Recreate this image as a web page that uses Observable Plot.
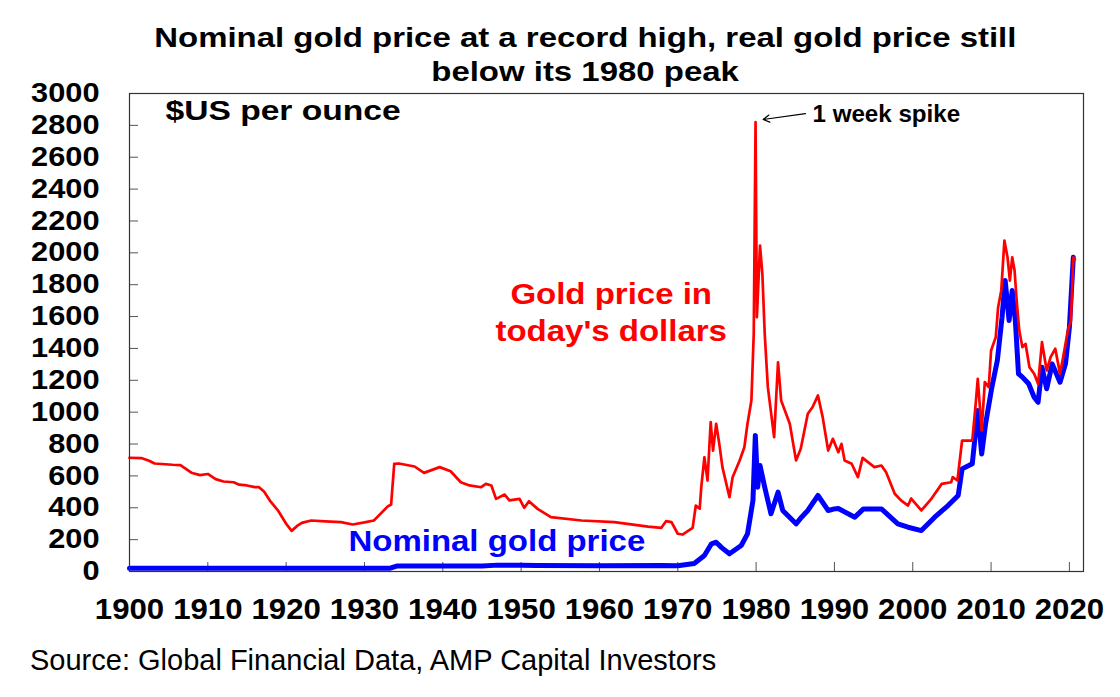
<!DOCTYPE html>
<html><head><meta charset="utf-8">
<script src="https://cdn.jsdelivr.net/npm/d3@7"></script>
<script src="https://cdn.jsdelivr.net/npm/@observablehq/plot@0.6"></script>
<style>
body{margin:0;background:#fff;font-family:"Liberation Sans",Arial,sans-serif;}
#wrap{position:relative;width:1120px;height:697px;overflow:hidden;background:#fff;}
.tl{position:absolute;left:0;width:1170px;text-align:center;font-weight:bold;font-size:27px;line-height:27px;white-space:nowrap;color:#000;}
.tl span{display:inline-block;transform:scaleX(1.22);transform-origin:50% 50%;}
#cap{position:absolute;left:30px;top:646px;font-size:29px;line-height:29px;white-space:nowrap;color:#000;}
#chart{position:absolute;left:0;top:0;}
</style></head>
<body><div id="wrap">
<div id="chart"></div>
<div class="tl" style="top:25px"><span>Nominal gold price at a record high, real gold price still</span></div>
<div class="tl" style="top:59px"><span>below its 1980 peak</span></div>
<div id="cap">Source: Global Financial Data, AMP Capital Investors</div>
</div>
<script>
// Real gold price (today's dollars)
const realYears = [1900,1901.5,1902.5,1903.2,1905.5,1906.5,1907.9,1909,1910,1911,1912,1913.3,1914,1915,1916,1916.5,1917.2,1918,1919,1920,1920.7,1921.5,1922,1923.2,1925,1927,1928.5,1930,1931.2,1932,1933,1933.4,1933.8,1934.4,1936.4,1937.6,1939.6,1941,1942.3,1943.4,1944.9,1945.5,1946.2,1946.8,1947.9,1948.5,1949.8,1950.4,1951,1952.1,1953.8,1957.7,1961.9,1966.2,1967.9,1968.5,1969.2,1970,1970.6,1971.9,1972.3,1972.8,1973,1973.4,1973.8,1974.2,1974.5,1974.9,1975.3,1975.7,1976.6,1977,1977.9,1978.5,1978.9,1979.4,1979.7,1979.93,1980.1,1980.5,1980.8,1981.1,1981.5,1982.3,1982.8,1983.2,1984.3,1985.1,1985.7,1986.6,1987.2,1987.9,1988.5,1989.2,1989.8,1990.5,1990.9,1991.3,1992.2,1993,1993.6,1995.1,1996,1996.6,1997.7,1998.5,1999.4,1999.8,2001.1,2002.4,2003.7,2004.9,2005.1,2005.7,2006.3,2007.6,2008,2008.3,2008.8,2009.2,2009.7,2010,2010.6,2010.9,2011.3,2011.7,2012.1,2012.4,2012.7,2013,2013.3,2013.6,2014,2014.4,2014.9,2015.5,2016,2016.5,2017.1,2017.6,2018.2,2018.8,2019.2,2019.8,2020.2,2020.5,2020.7];
const realPrice = [714,712,695,678,670,668,620,605,612,580,565,560,545,540,530,530,500,440,380,300,255,290,305,320,315,310,295,308,320,360,410,420,676,678,659,619,655,629,560,540,529,550,540,456,483,446,456,400,441,393,341,320,310,282,274,316,310,237,232,274,414,395,529,717,571,937,759,927,801,655,466,592,697,780,927,1073,1492,2820,1596,2046,1868,1492,1157,843,1313,1073,927,697,770,990,1031,1105,969,759,833,749,801,697,676,592,713,655,665,623,488,446,414,458,383,458,550,560,592,571,822,822,1031,1209,885,1188,1157,1387,1471,1659,1764,2077,1972,1826,1972,1889,1680,1512,1408,1429,1282,1241,1178,1439,1261,1345,1398,1241,1345,1512,1575,1972,1960];
// Nominal gold price
const nominalYears = [1900,1933.3,1934.2,1945,1947,1950,1952,1960,1967.9,1970,1972.1,1973.4,1974.3,1974.9,1975.6,1976.6,1978.1,1978.9,1979.6,1979.9,1980.2,1980.5,1981.1,1981.9,1982.8,1983.4,1985.1,1985.8,1986.6,1987.9,1989.2,1990,1990.5,1992.6,1993.7,1996,1998.1,1999.4,2001.1,2002.8,2004.5,2005.8,2006.3,2007.6,2008.3,2008.8,2009.3,2010.1,2010.8,2011.4,2011.8,2012.3,2012.7,2013.1,2013.5,2014,2014.8,2015.5,2016,2016.5,2017.1,2017.8,2018.8,2019.5,2020,2020.5];
const nominalPrice = [20.67,20.67,35,35,40,40,38,36,38,36,50,100,174,184,150,111,163,236,446,854,529,665,529,362,498,383,299,341,383,477,383,393,395,341,393,393,299,278,257,341,414,477,644,676,1010,738,927,1157,1324,1596,1826,1575,1764,1575,1241,1220,1178,1094,1062,1282,1147,1303,1188,1303,1533,1972];
// Axes
const xTicks = [1900,1910,1920,1930,1940,1950,1960,1970,1980,1990,2000,2010,2020];
const yTicks = [0,200,400,600,800,1000,1200,1400,1600,1800,2000,2200,2400,2600,2800,3000];
// Annotations
const seriesLabels = [
  {x: 1961.5, y: 1842, text: "Gold price in\ntoday's dollars", color: "#ff0000", anchor: "top"},
  {x: 1946.9, y: 188, text: "Nominal gold price", color: "#0000ff", anchor: "middle"}
];
const spikeNote = [{x: 1987.2, y: 2868, text: "1 week spike"}];
const spikeArrow = [{x1: 1986.3, y1: 2874, x2: 1980.9, y2: 2837}];
const unitNote = ["$US per ounce"];

const W = 1120, H = 697, mL = 129, mR = 37, mT = 93, mB = 126;
const plotW = W - mL - mR, plotH = H - mT - mB;
const real = realYears.map((x, i) => ({x, y: realPrice[i]}));
const nominal = nominalYears.map((x, i) => ({x, y: nominalPrice[i]}));
const font = '"Liberation Sans", Arial, sans-serif';

const chart = Plot.plot({
  width: W, height: H,
  marginLeft: mL, marginRight: mR, marginTop: mT, marginBottom: mB,
  style: {fontFamily: font, background: "white", color: "black", overflow: "visible"},
  x: {domain: [1900, 2021.8], label: null},
  y: {domain: [0, 3000], label: null},
  marks: [
    Plot.tickY(yTicks, {y: d => d, insetRight: plotW - 9, stroke: "#555", strokeWidth: 1}),
    Plot.tickX(xTicks, {x: d => d, insetTop: plotH - 9, stroke: "#555", strokeWidth: 1}),
    Plot.axisY({ticks: yTicks, tickSize: 0, tickPadding: 30, fontSize: 27, fontWeight: "bold", tickFormat: d => String(d), label: null, ariaDescription: "1.14"}),
    Plot.axisX({ticks: xTicks, tickSize: 0, tickPadding: 26, fontSize: 30, fontWeight: "bold", tickFormat: d => String(d), label: null, ariaDescription: "1.04"}),
    Plot.line(nominal, {x: "x", y: "y", stroke: "#0000ff", strokeWidth: 5, strokeLinejoin: "round"}),
    Plot.line(real, {x: "x", y: "y", stroke: "#ff0000", strokeWidth: 2.7, strokeLinejoin: "round"}),
    Plot.frame({stroke: "#333", strokeWidth: 1.2}),
    Plot.text(unitNote, {frameAnchor: "top-left", dx: 36, dy: 7, lineAnchor: "top", textAnchor: "start", fontSize: 28, fontWeight: "bold", fill: "black", ariaDescription: "1.2"}),
    Plot.text(spikeNote, {x: "x", y: "y", text: "text", textAnchor: "start", lineAnchor: "middle", fontSize: 23, fontWeight: "bold", fill: "black", ariaDescription: "1.05"}),
    Plot.arrow(spikeArrow, {x1: "x1", y1: "y1", x2: "x2", y2: "y2", stroke: "black", strokeWidth: 1.2, headLength: 9, bend: 0}),
    Plot.text(seriesLabels.filter(d => d.anchor === "top"), {x: "x", y: "y", text: "text", fill: "color", lineAnchor: "top", lineHeight: 1.22, fontSize: 30, fontWeight: "bold", ariaDescription: "1.1"}),
    Plot.text(seriesLabels.filter(d => d.anchor === "middle"), {x: "x", y: "y", text: "text", fill: "color", lineAnchor: "middle", fontSize: 30, fontWeight: "bold", ariaDescription: "1.1"})
  ]
});

d3.select(chart).selectAll("g[aria-description]").each(function () {
  const s = +this.getAttribute("aria-description");
  if (!s) return;
  d3.select(this).selectAll("text").each(function () {
    const t = this.getAttribute("transform") || "";
    this.setAttribute("transform", t + ` scale(${s},1)`);
  });
});

document.getElementById("chart").appendChild(chart);
</script>
</body></html>
